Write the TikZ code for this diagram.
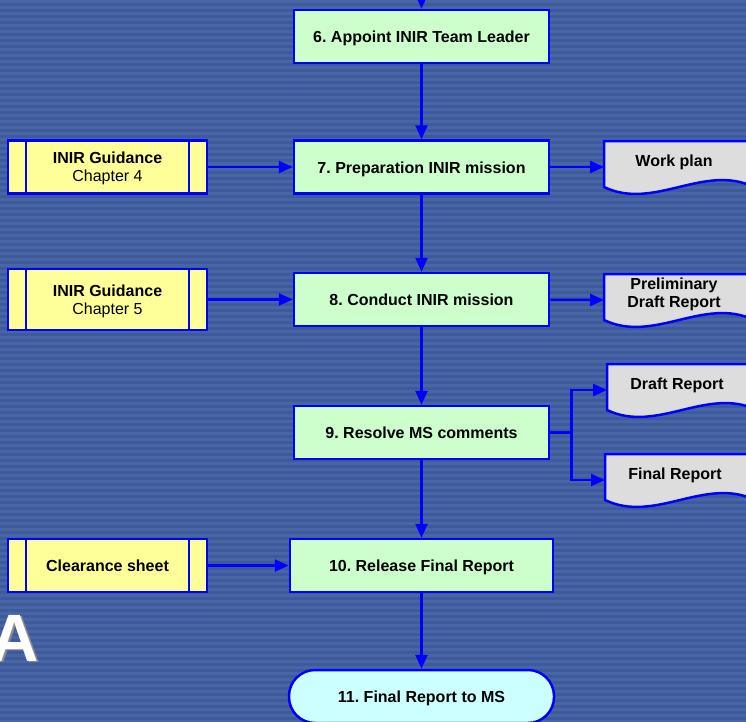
\documentclass[tikz,border=0pt]{standalone}
\usepackage{fontspec}
\setmainfont{Liberation Sans}
\usetikzlibrary{arrows.meta}
\definecolor{bgblue}{RGB}{62,90,155}
\definecolor{bgline}{RGB}{72,101,166}
\definecolor{taskgreen}{RGB}{204,255,204}
\definecolor{guideyellow}{RGB}{255,255,153}
\definecolor{docgrey}{RGB}{221,221,221}
\definecolor{endcyan}{RGB}{204,255,255}
\definecolor{edgeblue}{RGB}{0,0,255}
\newcommand{\boxfont}{\fontsize{16}{18}\selectfont}
\tikzset{
    task/.style={rectangle,draw=edgeblue,line width=2.5pt,fill=taskgreen,minimum width=255pt,minimum height=53pt,inner sep=0,text height=12pt,text depth=0pt,font=\boxfont\bfseries},
    guide/.style={rectangle,draw=edgeblue,line width=2.5pt,fill=guideyellow,minimum width=199pt,minimum height=53pt,inner sep=0,align=center,text height=29.5pt,text depth=0pt,font=\boxfont,
        path picture={\draw[edgeblue,line width=2.5pt]
            ([xshift=18pt]path picture bounding box.north west) -- ([xshift=18pt]path picture bounding box.south west)
            ([xshift=-18pt]path picture bounding box.north east) -- ([xshift=-18pt]path picture bounding box.south east);}},
    docline/.style={draw=edgeblue,line width=2.5pt,fill=docgrey},
    doctext/.style={align=center,inner sep=0,text height=12pt,text depth=0pt,font=\boxfont\bfseries},
    final/.style={rectangle,rounded corners=26pt,draw=edgeblue,line width=2.5pt,fill=endcyan,minimum width=265pt,minimum height=53pt,inner sep=0,text height=12pt,text depth=0pt,font=\boxfont\bfseries},
    logo/.style={anchor=base,inner sep=0,text=white,font=\fontsize{67}{67}\selectfont\bfseries},
    arr/.style={edgeblue,line width=2.5pt,-{Triangle[length=14pt,width=12pt]}}
}
% document shape: [#1] text options, #2 name, (#3,#4) point where the arrow ends, #5 text
\newcommand{\docnode}[5][]{%
    \coordinate (#2) at (#3,#4);
    \draw[docline] ([shift={(0,-26)}]#2) -- ([shift={(150,-26)}]#2) -- ([shift={(150,20)}]#2)
        .. controls ([shift={(100,-4)}]#2) and ([shift={(50,44)}]#2) .. ([shift={(0,20)}]#2) -- cycle;
    \node[doctext,#1] (#2-t) at ([shift={(70,-7)}]#2) {#5};
}

\begin{document}
\frenchspacing
\begin{tikzpicture}[x=1pt,y=-1pt]
    % striped background
    \useasboundingbox (0,0) rectangle (746,721);
    \clip (0,0) rectangle (746,721);
    \fill[bgblue] (0,0) rectangle (746,721);
    \foreach \y in {0,6,...,720}
        \fill[bgline] (0,\y) rectangle (746,\y+2.5);
    \node[logo,text=black!45] (logoshadow) at (16.5,662.5) {A};
    \node[logo] (logoA) at (15,661) {A};

    % outputs
    \docnode{wp}{604}{167}{Work plan}
    \docnode[text height=29.5pt]{pdr}{604}{300}{Preliminary\\Draft Report}
    \docnode{dr}{607}{390}{Draft Report}
    \docnode{fr}{605}{480}{Final Report}

    % steps
    \node[task] (s6) at (421.5,36.5) {6. Appoint INIR Team Leader};
    \node[task] (s7) at (421.5,167) {7. Preparation INIR mission};
    \node[task] (s8) at (421.5,299.5) {8. Conduct INIR mission};
    \node[task] (s9) at (421.5,432.5) {9. Resolve MS comments};
    \node[task,minimum width=263pt] (s10) at (421.5,565.5) {10. Release Final Report};
    \node[final] (s11) at (421.5,696.5) {11. Final Report to MS};

    % inputs
    \node[guide] (g4) at (107.5,167) {{\bfseries INIR Guidance}\\Chapter 4};
    \node[guide,minimum height=61pt] (g5) at (107.5,299.5) {{\bfseries INIR Guidance}\\Chapter 5};
    \node[guide,text height=12pt,font=\boxfont\bfseries] (cs) at (107.5,565.5) {Clearance sheet};

    % flow
    \coordinate (above6) at (421.5,-30);
    \draw[arr] (above6) -- (s6);
    \draw[arr] (s6) -- (s7);
    \draw[arr] (s7) -- (s8);
    \draw[arr] (s8) -- (s9);
    \draw[arr] (s9) -- (s10);
    \draw[arr] (s10) -- (s11);
    \draw[arr] (g4) -- (s7);
    \draw[arr] (g5) -- (s8);
    \draw[arr] (cs) -- (s10);
    \draw[arr] (s7) -- (wp);
    \draw[arr] (s8) -- (pdr);
    \draw[edgeblue,line width=2.5pt] (s9.east) -- ++(21,0) coordinate (fork);
    \draw[arr] (fork) |- (dr);
    \draw[arr] (fork) |- (fr);
\end{tikzpicture}
\end{document}
